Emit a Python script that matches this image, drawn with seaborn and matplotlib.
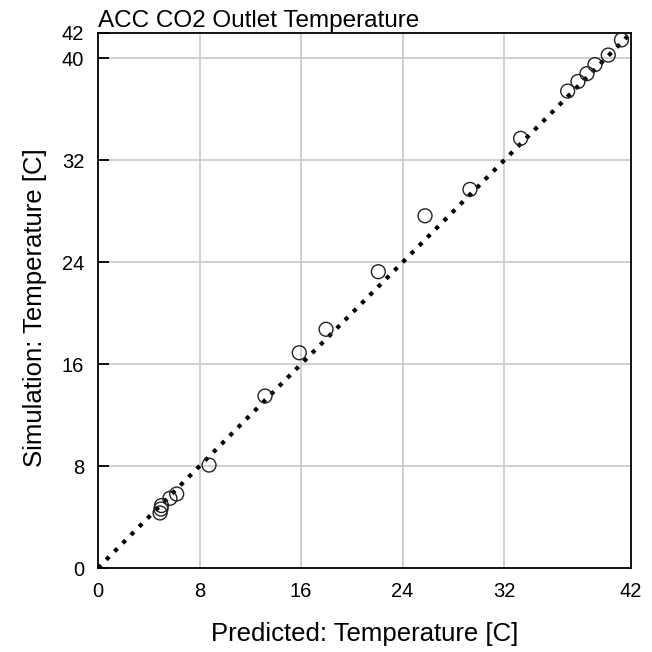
import matplotlib
matplotlib.use("Agg")
import matplotlib.pyplot as plt
import seaborn as sns
import pandas as pd

predicted = [4.89, 4.96, 5.00, 5.67, 6.20, 8.75, 13.16, 15.86, 17.97,
             22.09, 25.77, 29.31, 33.30, 37.01, 37.82, 38.53, 39.16, 40.21, 41.25]
simulated = [4.32, 4.63, 4.90, 5.47, 5.81, 8.08, 13.50, 16.90, 18.74,
             23.26, 27.65, 29.72, 33.73, 37.44, 38.19, 38.81, 39.52, 40.27, 41.46]
diag = [0, 42]
x_ticks = [0, 8, 16, 24, 32, 42]
y_ticks = [0, 8, 16, 24, 32, 40, 42]
x_grid = [8, 16, 24, 32]
y_grid = [8, 16, 24, 32, 40]
title = "ACC CO2 Outlet Temperature"
xlabel = "Predicted: Temperature [C]"
ylabel = "Simulation: Temperature [C]"

sns.set_style("white")
plt.rcParams['font.family'] = ['Liberation Sans', 'DejaVu Sans']
plt.rcParams['text.color'] = 'black'
plt.rcParams['axes.labelcolor'] = 'black'
plt.rcParams['xtick.color'] = 'black'
plt.rcParams['ytick.color'] = 'black'

fig = plt.figure(figsize=(6.52, 6.52), dpi=100)
ax = fig.add_axes([98/652, 84/652, 533/652, 535/652])

df = pd.DataFrame({"Predicted": predicted, "Simulated": simulated})

for g in x_grid:
    ax.axvline(g, color="#c8c8c8", lw=1.2, zorder=0)
for g in y_grid:
    ax.axhline(g, color="#c8c8c8", lw=1.2, zorder=0)

sns.lineplot(x=diag, y=diag, ax=ax, color="black", lw=3.0,
             linestyle=(0, (1.0, 1.8)), zorder=2)
sns.scatterplot(data=df, x="Predicted", y="Simulated", ax=ax, s=100,
                facecolor="none", edgecolor="#222222", linewidth=1.0, zorder=3)

ax.set_xlim(0, 42)
ax.set_ylim(0, 42)
ax.set_xticks(x_ticks)
ax.set_yticks(y_ticks)
ax.tick_params(axis="y", left=True, direction="in", length=8, width=1.3,
               color="black", pad=10, labelsize=14.5, labelcolor="black")
ax.tick_params(axis="x", bottom=True, direction="in", length=0, pad=10,
               labelsize=14.5, labelcolor="black")
for s in ax.spines.values():
    s.set_color("black")
    s.set_linewidth(1.3)

ax.set_xlabel(xlabel, fontsize=18.5, labelpad=15, color="black")
ax.set_ylabel(ylabel, fontsize=18.5, labelpad=10, color="black")
ax.yaxis.set_label_coords(-0.095, 0.487)
ax.set_title(title, fontsize=17.5, loc="left", pad=4, color="black")

fig.savefig("out.png", dpi=100)
